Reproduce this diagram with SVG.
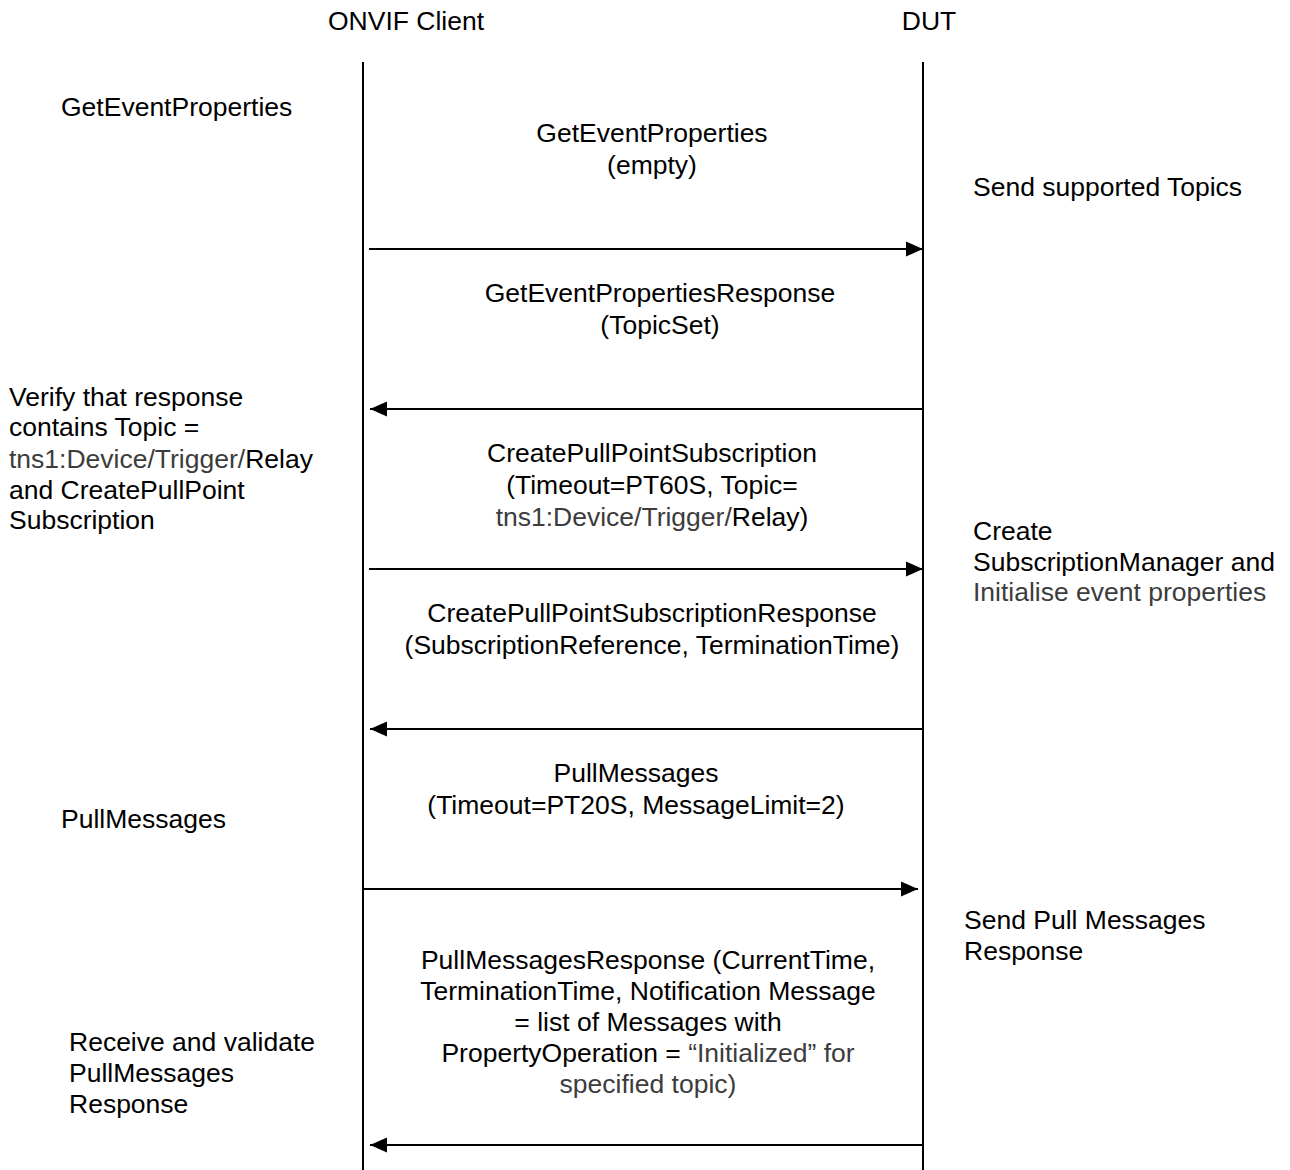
<svg xmlns="http://www.w3.org/2000/svg" width="1290" height="1170" viewBox="0 0 1290 1170">
  <style>
    text { font-family: "Liberation Sans", Arial, sans-serif; font-size: 26.5px; fill: #000; }
    .mid { text-anchor: middle; }
    .g { fill: #3c3c3c; }
    .life { stroke: #000; stroke-width: 2; fill: none; }
    .msg { stroke: #000; stroke-width: 2.2; fill: none; marker-end: url(#head); }
  </style>
  <defs>
    <marker id="head" markerUnits="userSpaceOnUse" markerWidth="17" markerHeight="18" viewBox="0 0 17 18" refX="17" refY="9" orient="auto">
      <path d="M0,1.5 L17,9 L0,16.5 Z" fill="#000"/>
    </marker>
  </defs>
  <rect width="1290" height="1170" fill="#fff"/>

  <!-- participants -->
  <g id="client">
    <text x="406" y="30" class="mid">ONVIF Client</text>
    <line class="life" x1="363" y1="62" x2="363" y2="1170"/>
  </g>
  <g id="dut">
    <text x="929" y="30" class="mid">DUT</text>
    <line class="life" x1="923" y1="62" x2="923" y2="1170"/>
  </g>

  <!-- messages -->
  <g id="connectors">
    <line class="msg" x1="369" y1="249" x2="923" y2="249"/>
    <line class="msg" x1="923" y1="409" x2="370" y2="409"/>
    <line class="msg" x1="369" y1="569" x2="923" y2="569"/>
    <line class="msg" x1="923" y1="729" x2="370" y2="729"/>
    <line class="msg" x1="364" y1="889" x2="918" y2="889"/>
    <line class="msg" x1="923" y1="1145" x2="370" y2="1145"/>
  </g>

  <!-- message labels -->
  <g id="msg-get-event-properties">
    <text x="652" y="142" class="mid">GetEventProperties</text>
    <text x="652" y="174" class="mid">(empty)</text>
  </g>
  <g id="msg-get-event-properties-response">
    <text x="660" y="302" class="mid">GetEventPropertiesResponse</text>
    <text x="660" y="334" class="mid">(TopicSet)</text>
  </g>
  <g id="msg-create-pull-point">
    <text x="652" y="462" class="mid">CreatePullPointSubscription</text>
    <text x="652" y="494" class="mid">(Timeout=PT60S, Topic=</text>
    <text x="652" y="526" class="mid"><tspan class="g">tns1:Device/Trigger/</tspan>Relay)</text>
  </g>
  <g id="msg-create-pull-point-response">
    <text x="652" y="622" class="mid">CreatePullPointSubscriptionResponse</text>
    <text x="652" y="654" class="mid">(SubscriptionReference, TerminationTime)</text>
  </g>
  <g id="msg-pull-messages">
    <text x="636" y="782" class="mid">PullMessages</text>
    <text x="636" y="814" class="mid">(Timeout=PT20S, MessageLimit=2)</text>
  </g>
  <g id="msg-pull-messages-response">
    <text x="648" y="969" class="mid">PullMessagesResponse (CurrentTime,</text>
    <text x="648" y="1000" class="mid">TerminationTime, Notification Message</text>
    <text x="648" y="1031" class="mid">= list of Messages with</text>
    <text x="648" y="1062" class="mid">PropertyOperation = <tspan class="g">“Initialized” for</tspan></text>
    <text x="648" y="1093" class="mid g">specified topic)</text>
  </g>

  <!-- client-side notes -->
  <g id="note-client-get">
    <text x="61" y="116">GetEventProperties</text>
  </g>
  <g id="note-client-verify">
    <text x="9" y="406">Verify that response</text>
    <text x="9" y="436">contains Topic =</text>
    <text x="9" y="468"><tspan class="g">tns1:Device/Trigger/</tspan>Relay</text>
    <text x="9" y="499">and CreatePullPoint</text>
    <text x="9" y="529">Subscription</text>
  </g>
  <g id="note-client-pull">
    <text x="61" y="828">PullMessages</text>
  </g>
  <g id="note-client-receive">
    <text x="69" y="1051">Receive and validate</text>
    <text x="69" y="1082">PullMessages</text>
    <text x="69" y="1113">Response</text>
  </g>

  <!-- device-side notes -->
  <g id="note-dut-topics">
    <text x="973" y="196">Send supported Topics</text>
  </g>
  <g id="note-dut-create">
    <text x="973" y="540">Create</text>
    <text x="973" y="571">SubscriptionManager and</text>
    <text x="973" y="601" class="g">Initialise event properties</text>
  </g>
  <g id="note-dut-pull">
    <text x="964" y="929">Send Pull Messages</text>
    <text x="964" y="960">Response</text>
  </g>
</svg>
